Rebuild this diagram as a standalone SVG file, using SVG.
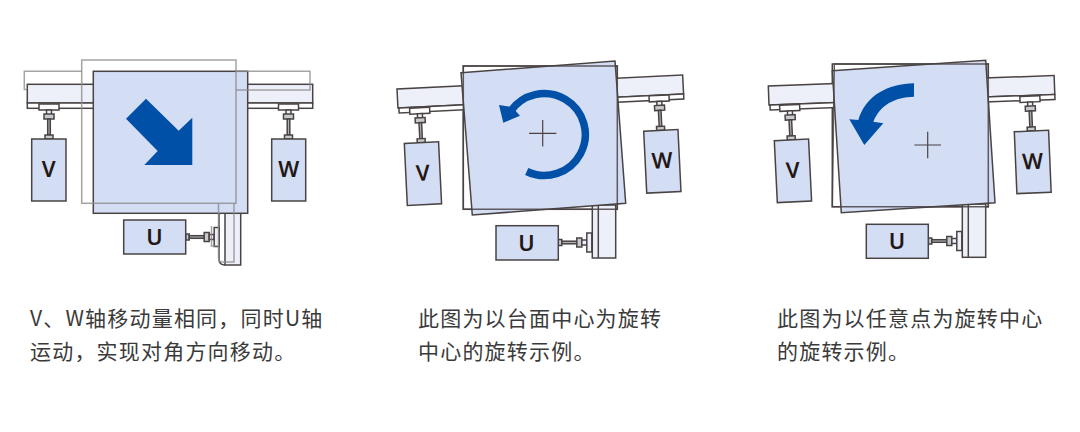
<svg xmlns="http://www.w3.org/2000/svg" width="1080" height="432" viewBox="0 0 1080 432">
<style>
.s{stroke:#4a4344;stroke-width:1.5}
.m{fill:#d3ddf4}
.r{fill:#eef0f9}
.w{fill:#fff}
.g{fill:none;stroke:#8e8c8e;stroke-width:1.5;stroke-opacity:.8}
.l{font-family:"Noto Sans",sans-serif;font-weight:600;font-size:22px;fill:#231815;text-anchor:middle}
.t{font-family:"Noto Sans CJK SC",sans-serif;font-size:21px;letter-spacing:1.2px;fill:#3a3a3a}
.c{fill:none;stroke:#4a4344;stroke-width:1.2}
.a{fill:#0050a8}
</style>
<defs>
<g id="h">
<rect class="s w" x="-10" y="0" width="20" height="6"/>
<rect class="s r" x="-2.5" y="6" width="5" height="5"/>
<rect class="s" fill="#c9c9d0" x="-5" y="10" width="10" height="5"/>
<rect class="s" fill="#b0b0b5" x="-1.3" y="15" width="2.6" height="16"/>
<rect class="s" fill="#c9c9d0" x="-4" y="31" width="8" height="4"/>
</g>
<g id="hu">
<rect class="s" fill="#c9c9d0" x="0" y="-3" width="3.5" height="6"/>
<rect class="s" fill="#b0b0b5" x="3.5" y="-1.3" width="15" height="2.6"/>
<rect class="s" fill="#c9c9d0" x="18.500" y="-4.500" width="5" height="9"/>
<rect class="s r" x="23.500" y="-2.500" width="5" height="5"/>
<rect class="s r" x="28.500" y="-9.500" width="5" height="19"/>
</g>
</defs>

<g id="panel1">
<g id="p1-rail"><rect class="s r" x="27.300" y="84.300" width="285.400" height="18.700"/><rect class="s w" x="27.300" y="103" width="285.400" height="5.300"/></g>
<g id="p1-v"><use href="#h" x="49" y="104"/><rect class="s m" x="31.700" y="139" width="34.300" height="62"/><text class="l" x="48.800" y="177">V</text></g>
<g id="p1-w"><use href="#h" x="288.500" y="104"/><rect class="s m" x="271.700" y="139" width="34" height="62"/><text class="l" x="288.700" y="177">W</text></g>
<g id="p1-urail"><path class="s r" d="M225 213V265H240.700V213Z"/><path class="s" fill="none" d="M225 213H219V259Q219 265 225 265"/></g>
<g id="p1-u"><use href="#hu" x="185.700" y="237"/><rect class="s m" x="123.700" y="220" width="62" height="34"/><text class="l" x="154.500" y="245">U</text></g>
<g id="p1-stage"><rect class="s m" x="93.300" y="71.300" width="154.400" height="142"/><path class="a" d="M146 98.700L126 118.700L157.700 151L144.300 165H192.300V117.700L178.700 130.700Z"/></g>
<g id="p1-ghost"><rect class="g" x="81.700" y="60" width="154.300" height="143.300"/><path class="g" d="M81.700 71.300H24.300V89.500H27M236 71.300H310V90H236"/><path class="g" d="M218.500 203.300V257.500Q218.500 262 222 262H234V203.300M211.500 226V246H217"/></g>
</g>

<g id="panel2">
<rect class="s w" x="463.300" y="66" width="154" height="143.300"/>
<g id="p2-rail" transform="translate(397 89) rotate(-2.800)"><rect class="s r" x="0" y="0" width="286" height="19"/><rect class="s w" x="1" y="19" width="285" height="5"/></g>
<g id="p2-v" transform="translate(404.300 143.500) rotate(-2.800)"><use href="#h" x="17" y="-35"/><rect class="s m" width="34.300" height="62"/><text class="l" x="17" y="38">V</text></g>
<g id="p2-w" transform="translate(643.700 131.200) rotate(-2.800)"><use href="#h" x="17" y="-35"/><rect class="s m" width="34.300" height="62"/><text class="l" x="17" y="38">W</text></g>
<g id="p2-urail"><rect class="s r" x="592.300" y="205" width="23.400" height="53"/><path class="s" d="M598.300 205V258" fill="none"/></g>
<g id="p2-u"><use href="#hu" x="558.300" y="242.500"/><rect class="s m" x="496" y="225.700" width="62.300" height="34.300"/><text class="l" x="526.500" y="251">U</text></g>
<g id="p2-stage"><path class="s m" d="M461 72.700L615 61L625.700 203.300L472.300 215Z"/><path class="s" fill="none" d="M463.300 66H617.300V209.300H463.300Z" opacity=".85"/>
<path class="c" d="M529 133.300H556.400M542.700 120V146.600"/>
<path d="M526.700 171.500A41 41 0 1 0 510 112" fill="none" stroke="#0050a8" stroke-width="7.500"/><path class="a" d="M499 105L503.300 122.700L520 115.700L512 107Z"/></g>
</g>

<g id="panel3">
<rect class="s w" x="832.300" y="64" width="156" height="142.700"/>
<g id="p3-rail" transform="translate(768.300 86) rotate(-2.100)"><rect class="s r" x="0" y="0" width="286" height="19"/><rect class="s w" x="1" y="19" width="285" height="5"/></g>
<g id="p3-v" transform="translate(774.300 140.700) rotate(-2.800)"><use href="#h" x="17" y="-35"/><rect class="s m" width="34.300" height="62"/><text class="l" x="17" y="38">V</text></g>
<g id="p3-w" transform="translate(1014.300 131.700) rotate(-2.400)"><use href="#h" x="17" y="-35"/><rect class="s m" width="34.300" height="62"/><text class="l" x="17" y="38">W</text></g>
<g id="p3-urail"><rect class="s r" x="962.300" y="204" width="23.400" height="53.300"/><path class="s" d="M968.300 204V257" fill="none"/></g>
<g id="p3-u"><use href="#hu" x="928.300" y="241"/><rect class="s m" x="866.300" y="224.300" width="62" height="34"/><text class="l" x="897" y="249">U</text></g>
<g id="p3-stage"><path class="s m" d="M832.300 70.700L985.700 60.300L995 202.700L841.300 212.700Z"/><path class="s" fill="none" d="M834.300 64H988.300V206.700H832.300Z" opacity=".85"/>
<path class="c" d="M914.400 145H941M927.700 131.700V158.300"/>
<path class="a" d="M914 83.300C888 84 866 95 858.300 120L849.300 119.300L864.300 145L883.300 123.300L873.300 121.700C880 105 895 97 914 96.700Z"/></g>
</g>

<g id="captions">
<text class="t" x="30" y="325.500">V、W轴移动量相同，同时U轴</text>
<text class="t" x="30" y="358.500">运动，实现对角方向移动。</text>
<text class="t" x="418" y="325.500">此图为以台面中心为旋转</text>
<text class="t" x="418" y="358.500">中心的旋转示例。</text>
<text class="t" x="777" y="325.500">此图为以任意点为旋转中心</text>
<text class="t" x="777" y="358.500">的旋转示例。</text>
</g>
</svg>
